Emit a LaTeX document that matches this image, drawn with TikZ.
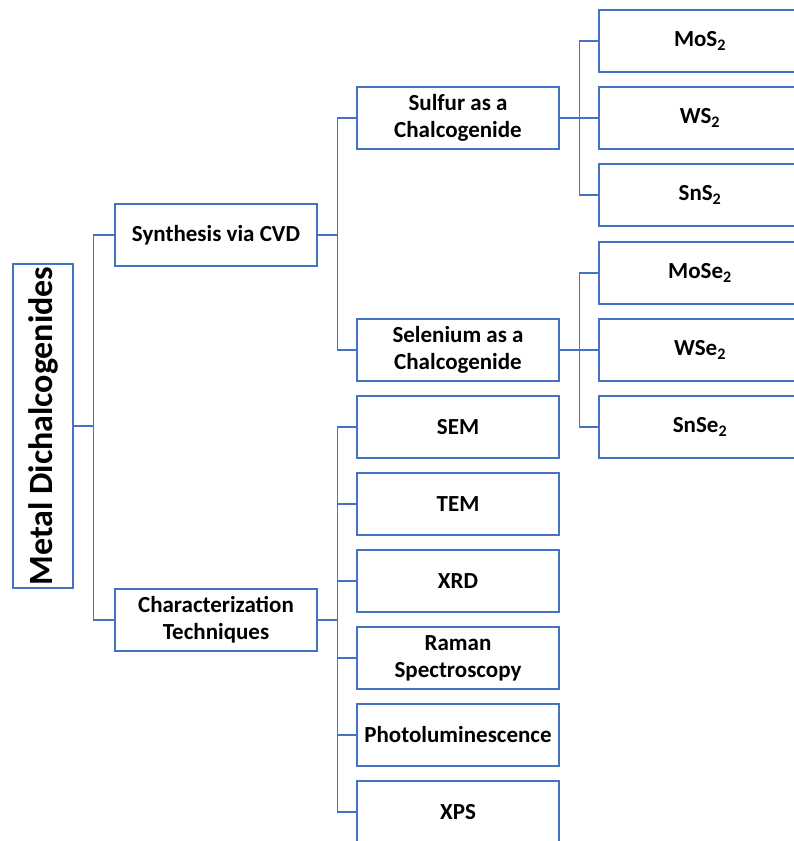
\documentclass[tikz,border=0pt]{standalone}
\usepackage{fontspec}
\setmainfont{Carlito}
\usepackage{xcolor}
\definecolor{boxblue}{HTML}{4472C4}

\begin{document}
\begin{tikzpicture}[x=1pt,y=-1pt,line join=miter,
    box/.style={draw=boxblue,line width=1.3pt,fill=white,minimum width=202pt,minimum height=62pt,
        inner sep=0pt,align=center,font=\fontsize{23}{27}\selectfont\bfseries},
    rootbox/.style={draw=boxblue,line width=1.3pt,minimum width=60pt,minimum height=324pt,
        inner sep=0pt,font=\fontsize{34}{40}\selectfont\bfseries},
    link/.style={draw=boxblue,line width=1.3pt}]
    \clip (0,0) rectangle (794,841);
    % root
    \node[rootbox] (metal) at (43,426) {\rotatebox{90}{Metal Dichalcogenides}};
    % second level
    \node[box] (synth) at (216,235) {Synthesis via CVD};
    \node[box] (charact) at (216,620) {Characterization\\Techniques};
    % third level
    \node[box] (sulfur) at (458,118) {Sulfur as a\\Chalcogenide};
    \node[box] (selen) at (458,350) {Selenium as a\\Chalcogenide};
    \node[box] (sem) at (458,427) {SEM};
    \node[box] (tem) at (458,504) {TEM};
    \node[box] (xrd) at (458,581) {XRD};
    \node[box] (raman) at (458,658) {Raman\\Spectroscopy};
    \node[box] (photo) at (458,735) {Photoluminescence};
    \node[box] (xps) at (458,812) {XPS};
    % compounds
    \node[box] (mos) at (700,41) {MoS\textsubscript{2}};
    \node[box] (ws) at (700,118) {WS\textsubscript{2}};
    \node[box] (sns) at (700,195) {SnS\textsubscript{2}};
    \node[box] (mose) at (700,273) {MoSe\textsubscript{2}};
    \node[box] (wse) at (700,350) {WSe\textsubscript{2}};
    \node[box] (snse) at (700,427) {SnSe\textsubscript{2}};
    % connectors
    \draw[link] (metal.east) -- ++(20,0) coordinate (mj);
    \foreach \c in {synth,charact}
        \draw[link] (mj) |- (\c.west);
    \draw[link] (synth.east) -- ++(20,0) coordinate (sj);
    \foreach \c in {sulfur,selen}
        \draw[link] (sj) |- (\c.west);
    \draw[link] (charact.east) -- ++(20,0) coordinate (cj);
    \foreach \c in {sem,tem,xrd,raman,photo,xps}
        \draw[link] (cj) |- (\c.west);
    \draw[link] (sulfur.east) -- ++(20,0) coordinate (uj);
    \foreach \c in {mos,ws,sns}
        \draw[link] (uj) |- (\c.west);
    \draw[link] (selen.east) -- ++(20,0) coordinate (ej);
    \foreach \c in {mose,wse,snse}
        \draw[link] (ej) |- (\c.west);
\end{tikzpicture}
\end{document}
